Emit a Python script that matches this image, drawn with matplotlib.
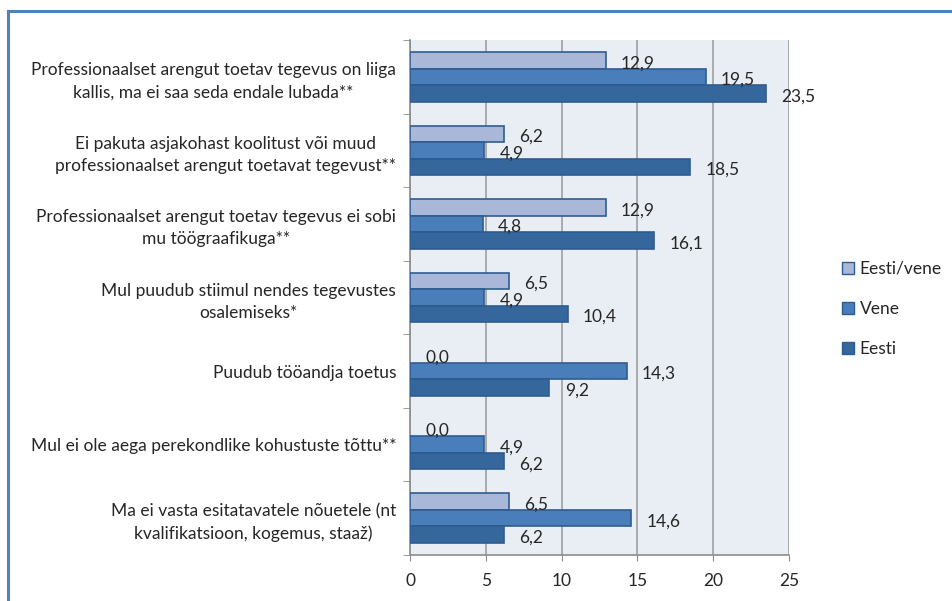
import numpy as np
import matplotlib
matplotlib.use('Agg')
import matplotlib.pyplot as plt
from matplotlib.patches import Rectangle, Patch

categories = [
    "Professionaalset arengut toetav tegevus on liiga\nkallis, ma ei saa seda endale lubada**",
    "Ei pakuta asjakohast koolitust või muud\nprofessionaalset arengut toetavat tegevust**",
    "Professionaalset arengut toetav tegevus ei sobi\nmu töögraafikuga**",
    "Mul puudub stiimul nendes tegevustes\nosalemiseks*",
    "Puudub tööandja toetus",
    "Mul ei ole aega perekondlike kohustuste tõttu**",
    "Ma ei vasta esitatavatele nõuetele (nt\nkvalifikatsioon, kogemus, staaž)",
]
eesti_vene = [12.9, 6.2, 12.9, 6.5, 0.0, 0.0, 6.5]
vene = [19.5, 4.9, 4.8, 4.9, 14.3, 4.9, 14.6]
eesti = [23.5, 18.5, 16.1, 10.4, 9.2, 6.2, 6.2]
series_names = ['Eesti/vene', 'Vene', 'Eesti']
xticks = [0, 5, 10, 15, 20, 25]

plt.rcParams['font.family'] = ['Lato', 'DejaVu Sans']
colors = ['#A9B8D8', '#4A7EBB', '#35669C']
edge = '#2F5C8F'
txt = '#262626'

fig = plt.figure(figsize=(9.52, 6.01), dpi=100)
ax = fig.add_axes([410/952, 1-555/601, 379/952, 515/601])
ax.set_facecolor('#E9EDF4')

pos = np.arange(len(categories))
h = 0.225
for k, vals in enumerate([eesti_vene, vene, eesti]):
    y = pos + (k - 1) * h
    lw = [1.2 if v > 0 else 0 for v in vals]
    ax.barh(y, vals, height=h, color=colors[k], edgecolor=edge, linewidth=lw, zorder=3)
    for yy, v in zip(y, vals):
        ax.text(v + 1.0, yy + 0.04, '{:.1f}'.format(v).replace('.', ','), va='center', ha='left',
                fontsize=12.5, color=txt, zorder=4)

ax.set_xlim(0, 25)
ax.set_ylim(len(categories) - 0.5, -0.5)
ax.set_xticks(xticks)
ax.set_xticklabels([str(x) for x in xticks], fontsize=12.5, color=txt)
ax.set_yticks(pos)
ax.set_yticklabels(categories, fontsize=12.5, color=txt, multialignment='center', linespacing=1.45)
ax.set_yticks(np.arange(-0.5, len(categories) + 0.5, 1), minor=True)
ax.tick_params(axis='y', which='major', length=0, pad=10)
ax.tick_params(axis='y', which='minor', length=5, color='#8C8C8C')
ax.tick_params(axis='x', length=4, color='#8C8C8C', pad=9)
ax.xaxis.grid(True, color='#A0A0A0', linewidth=1.2, zorder=0)
ax.set_axisbelow(True)
for s in ['top', 'right']:
    ax.spines[s].set_visible(False)
for s in ['left', 'bottom']:
    ax.spines[s].set_color('#8C8C8C')
    ax.spines[s].set_linewidth(1.2)

handles = [Patch(facecolor=colors[k], edgecolor=edge) for k in range(3)]
fig.legend(handles, series_names, loc='center left', bbox_to_anchor=(826/952, 1-309/601),
           frameon=False, handlelength=0.7, handleheight=0.7, handletextpad=0.35,
           labelspacing=1.4, fontsize=12.5, labelcolor=txt)

fig.patches.append(Rectangle((8/952, -0.1), 1.1, 1.1 - 11/601, transform=fig.transFigure,
                             fill=False, edgecolor='#4F81BD', linewidth=2.2))

fig.savefig('out.png', dpi=100)
